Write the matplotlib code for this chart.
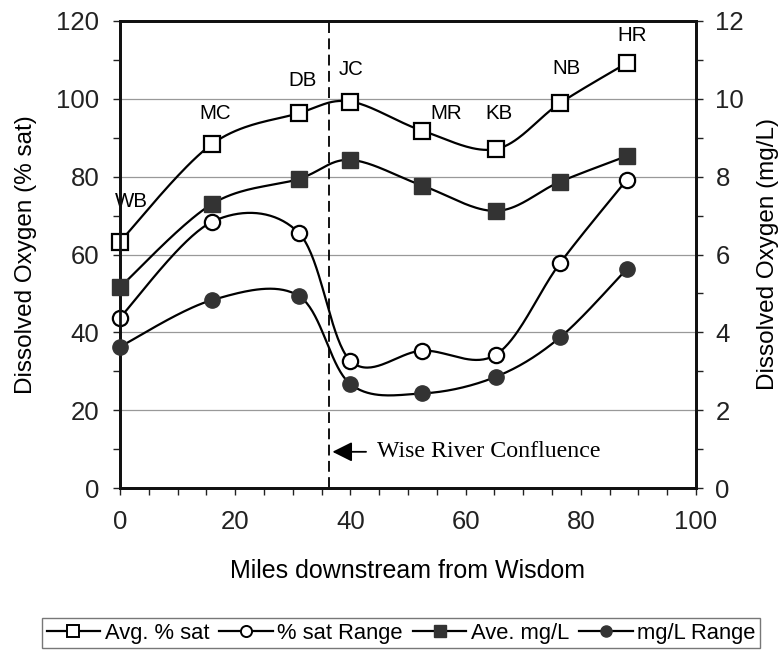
import numpy as np
import matplotlib
matplotlib.use('Agg')
import matplotlib.pyplot as plt
from matplotlib.ticker import MultipleLocator
from matplotlib.lines import Line2D

plt.rcParams['font.family'] = ['Liberation Sans', 'DejaVu Sans']

# stations along the river
stations = ['WB', 'MC', 'DB', 'JC', 'MR', 'KB', 'NB', 'HR']
miles = [0, 16, 31, 40, 52.5, 65.3, 76.4, 88]

avg_sat = [63.3, 88.4, 96.3, 99.3, 91.8, 87.1, 98.9, 109.2]
sat_range = [43.8, 68.4, 65.6, 32.7, 35.3, 34.3, 57.8, 79.2]
ave_mgl = [5.16, 7.30, 7.94, 8.43, 7.77, 7.12, 7.87, 8.53]
mgl_range = [3.63, 4.83, 4.94, 2.67, 2.43, 2.86, 3.87, 5.63]

# station label positions (miles, % sat)
label_x = [2.0, 16.5, 31.7, 40.2, 56.7, 65.8, 77.6, 88.9]
label_y = [73.6, 96.3, 104.6, 107.5, 96.3, 96.3, 107.9, 116.3]

confluence = 36.2

W, H = 781, 650
fig = plt.figure(figsize=(W / 100, H / 100), dpi=100)
ax = fig.add_axes([120 / W, 1 - 488 / H, 576 / W, 467 / H])
ax2 = ax.twinx()

XR, YR = 100.0, 120.0
sx, sy = 576 / XR, 467 / YR


def smooth(xs, ys, scale_y, n=40):
    # bezier smoothing in screen space, like a spreadsheet "smoothed line"
    p = np.column_stack([np.array(xs) * sx, np.array(ys) * scale_y])
    out = []
    for i in range(len(p) - 1):
        p0 = p[i - 1] if i > 0 else p[i]
        p1 = p[i]
        p2 = p[i + 1]
        p3 = p[i + 2] if i + 2 < len(p) else p[i + 1]
        c1 = p1 + (p2 - p0) / 6
        c2 = p2 - (p3 - p1) / 6
        t = np.linspace(0, 1, n)[:, None]
        seg = ((1 - t) ** 3) * p1 + 3 * ((1 - t) ** 2) * t * c1 + 3 * (1 - t) * t ** 2 * c2 + t ** 3 * p2
        out.append(seg if i == 0 else seg[1:])
    out = np.vstack(out)
    return out[:, 0] / sx, out[:, 1] / scale_y


dark = '#333333'
lw = 1.6
ms = 11

for a in (ax, ax2):
    a.set_xlim(0, XR)
ax.set_ylim(0, YR)
ax2.set_ylim(0, 12)

# % sat series on the left axis
xs, ys = smooth(miles, avg_sat, sy)
ax.plot(xs, ys, color='black', lw=lw, zorder=3)
ax.plot(miles, avg_sat, ls='none', marker='s', ms=ms, mfc='white', mec='black', mew=1.6, zorder=4, clip_on=False)

xs, ys = smooth(miles, sat_range, sy)
ax.plot(xs, ys, color='black', lw=lw, zorder=3)
ax.plot(miles, sat_range, ls='none', marker='o', ms=ms, mfc='white', mec='black', mew=1.6, zorder=4, clip_on=False)

# mg/L series on the right axis
xs, ys = smooth(miles, ave_mgl, sy * 10)
ax2.plot(xs, ys, color='black', lw=lw, zorder=3)
ax2.plot(miles, ave_mgl, ls='none', marker='s', ms=ms, mfc=dark, mec=dark, mew=1, zorder=4, clip_on=False)

xs, ys = smooth(miles, mgl_range, sy * 10)
ax2.plot(xs, ys, color='black', lw=lw, zorder=3)
ax2.plot(miles, mgl_range, ls='none', marker='o', ms=ms, mfc=dark, mec=dark, mew=1, zorder=4, clip_on=False)

for name, lx, ly in zip(stations, label_x, label_y):
    ax.text(lx, ly, name, ha='center', va='center', fontsize=14.8)

# Wise River confluence marker
ax.axvline(confluence, color='black', lw=1.3, ls=(0, (6, 3)), zorder=2)
ax.annotate('', xy=(confluence + 0.2, 9.3), xytext=(confluence + 7, 9.3),
            arrowprops=dict(arrowstyle='-|>', color='black', lw=1.3, mutation_scale=30))
ax.text(confluence + 8.5, 9.3, 'Wise River Confluence', ha='left', va='center',
        fontsize=17.2, family=['Liberation Serif', 'DejaVu Serif'])

# axes and ticks
ax.yaxis.grid(True, color='#999999', lw=0.9)
ax.set_axisbelow(True)
ax.xaxis.set_major_locator(MultipleLocator(20))
ax.xaxis.set_minor_locator(MultipleLocator(5))
ax.yaxis.set_major_locator(MultipleLocator(20))
ax.yaxis.set_minor_locator(MultipleLocator(10))
ax2.yaxis.set_major_locator(MultipleLocator(2))
ax2.yaxis.set_minor_locator(MultipleLocator(1))
for a in (ax, ax2):
    a.tick_params(which='both', direction='out', length=5, width=1, colors='#222222', labelsize=18.5)
    a.tick_params(which='minor', labelsize=0)
ax.tick_params(axis='x', pad=11)
ax.tick_params(axis='y', pad=10)
ax2.tick_params(axis='y', pad=9)
for a in (ax, ax2):
    for s in a.spines.values():
        s.set_linewidth(2)
        s.set_color('#111111')

ax.set_xlabel('Miles downstream from Wisdom', fontsize=18, labelpad=18)
ax.set_ylabel('Dissolved Oxygen (% sat)', fontsize=17.5, labelpad=14)
ax2.set_ylabel('Dissolved Oxygen (mg/L)', fontsize=17.5, labelpad=9)

handles = [
    Line2D([], [], color='black', lw=lw, marker='s', ms=8, mfc='white', mec='black', mew=1.4),
    Line2D([], [], color='black', lw=lw, marker='o', ms=8, mfc='white', mec='black', mew=1.4),
    Line2D([], [], color='black', lw=lw, marker='s', ms=8, mfc=dark, mec=dark),
    Line2D([], [], color='black', lw=lw, marker='o', ms=8, mfc=dark, mec=dark),
]
leg = fig.legend(handles, ['Avg. % sat', '% sat Range', 'Ave. mg/L', 'mg/L Range'],
                 loc='center', bbox_to_anchor=(401 / W, 1 - 633 / H), ncol=4, fontsize=15.8,
                 frameon=True, fancybox=False, handlelength=2.45, handletextpad=0.2,
                 columnspacing=0.45, borderpad=0.2, borderaxespad=0)
leg.get_frame().set_edgecolor('#555555')
leg.get_frame().set_linewidth(1)

fig.savefig('out.png', dpi=100)
